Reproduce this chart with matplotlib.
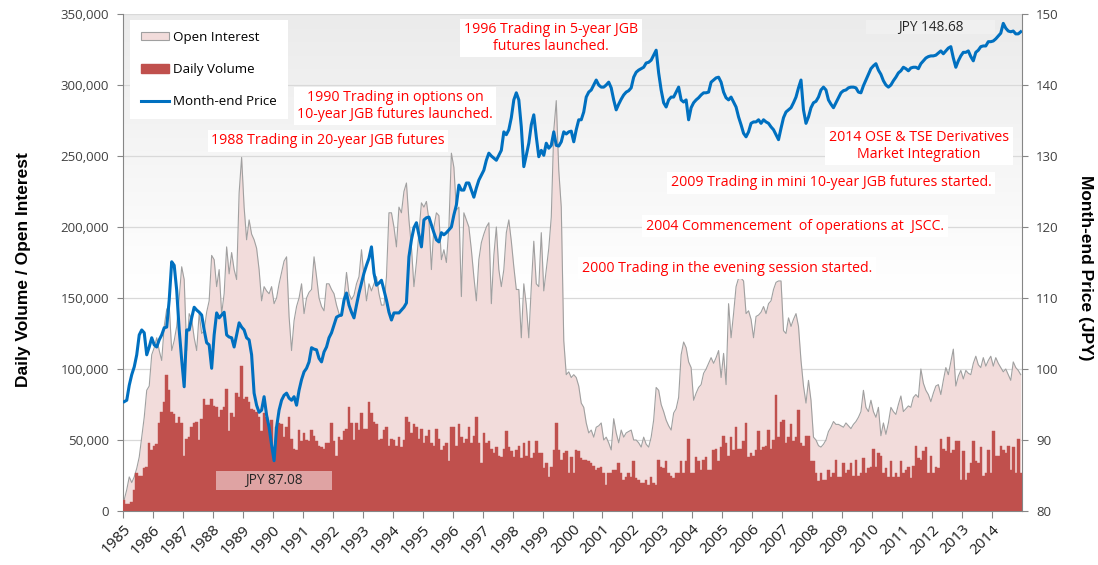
import numpy as np
import matplotlib
matplotlib.use("Agg")
import matplotlib.pyplot as plt
from matplotlib.patches import Patch, Rectangle
from matplotlib.lines import Line2D
from matplotlib.ticker import FuncFormatter, MultipleLocator
from matplotlib.colors import LinearSegmentedColormap

plt.rcParams['font.family'] = ['Open Sans', 'DejaVu Sans']

# --- data (monthly, Jan 1985 .. Dec 2014) ---
years = list(range(1985, 2015))

# daily volume, thousands of contracts
volume_k = [
    8, 5, 5, 6, 15, 27, 25, 25, 30, 31, 48, 43,         # 1985
    46, 47, 62, 70, 77, 96, 85, 70, 68, 62, 66, 62,     # 1986
    39, 51, 52, 59, 62, 63, 50, 65, 79, 75, 75, 79,     # 1987
    74, 73, 66, 71, 73, 86, 56, 69, 66, 83, 80, 102,    # 1988
    79, 80, 77, 72, 71, 70, 66, 56, 69, 66, 61, 64,     # 1989
    44, 59, 62, 61, 52, 59, 66, 51, 44, 43, 57, 49,     # 1990
    55, 50, 49, 57, 53, 49, 46, 45, 44, 48, 48, 62,     # 1991
    49, 39, 52, 50, 56, 58, 73, 62, 50, 62, 57, 69,     # 1992
    58, 58, 77, 69, 63, 61, 50, 51, 57, 59, 46, 51,     # 1993
    50, 46, 52, 45, 50, 66, 63, 55, 61, 59, 51, 58,     # 1994
    48, 53, 57, 48, 46, 58, 51, 43, 46, 48, 35, 59,     # 1995
    59, 46, 61, 52, 48, 51, 59, 48, 53, 66, 48, 34,     # 1996
    55, 48, 49, 44, 41, 45, 39, 38, 44, 56, 45, 42,     # 1997
    38, 43, 46, 37, 48, 39, 49, 37, 41, 49, 41, 41,     # 1998
    30, 34, 24, 31, 43, 62, 43, 36, 41, 42, 27, 38,     # 1999
    27, 43, 42, 37, 36, 36, 35, 34, 32, 29, 30, 31,     # 2000
    27, 18, 27, 27, 29, 29, 34, 27, 22, 24, 27, 24,     # 2001
    35, 23, 22, 20, 20, 22, 18, 24, 20, 18, 36, 31,     # 2002
    30, 35, 27, 25, 23, 27, 27, 35, 27, 35, 51, 27,     # 2003
    27, 38, 35, 29, 36, 38, 29, 29, 43, 44, 35, 45,     # 2004
    53, 48, 39, 52, 43, 59, 44, 44, 49, 62, 38, 41,     # 2005
    39, 43, 56, 43, 45, 46, 57, 44, 50, 82, 52, 63,     # 2006
    64, 48, 52, 61, 49, 52, 71, 48, 46, 53, 53, 35,     # 2007
    35, 27, 21, 27, 22, 22, 29, 24, 27, 36, 24, 24,     # 2008
    34, 27, 29, 34, 25, 36, 25, 27, 37, 27, 30, 31,     # 2009
    44, 31, 41, 39, 27, 30, 24, 35, 24, 27, 24, 35,     # 2010
    27, 29, 31, 23, 32, 46, 37, 36, 42, 45, 27, 39,     # 2011
    27, 31, 30, 51, 44, 42, 52, 41, 43, 49, 49, 22,     # 2012
    42, 22, 27, 34, 49, 35, 34, 45, 25, 27, 43, 27,     # 2013
    56, 39, 39, 46, 43, 41, 46, 29, 45, 27, 51, 27,     # 2014
]

# open interest, thousands of contracts
open_interest_k = [
    8, 15, 24, 20, 24, 30, 38, 52, 66, 85, 88, 110,             # 1985
    115, 122, 113, 106, 130, 142, 145, 113, 120, 130, 150, 172,  # 1986
    163, 113, 139, 135, 122, 113, 139, 125, 127, 140, 148, 180,  # 1987
    177, 158, 170, 139, 153, 186, 167, 182, 170, 163, 224, 249,  # 1988
    214, 191, 205, 195, 191, 185, 170, 148, 158, 155, 153, 158,  # 1989
    146, 150, 160, 168, 176, 179, 137, 113, 134, 144, 150, 160,  # 1990
    139, 150, 154, 156, 179, 165, 150, 144, 141, 160, 160, 156,  # 1991
    153, 145, 139, 137, 150, 168, 153, 149, 152, 160, 165, 184,  # 1992
    165, 148, 160, 155, 160, 165, 153, 145, 145, 165, 210, 210,  # 1993
    200, 186, 214, 210, 225, 231, 205, 186, 158, 175, 196, 217,  # 1994
    214, 218, 205, 170, 200, 210, 208, 177, 184, 175, 200, 252,  # 1995
    242, 212, 214, 151, 210, 205, 200, 184, 165, 148, 177, 189,  # 1996
    195, 200, 203, 146, 180, 200, 170, 158, 170, 196, 205, 190,  # 1997
    172, 156, 156, 122, 160, 145, 122, 158, 190, 160, 158, 196,  # 1998
    155, 170, 185, 207, 268, 289, 240, 214, 120, 96, 98, 94,     # 1999
    96, 94, 88, 76, 73, 62, 55, 57, 52, 59, 60, 62,              # 2000
    50, 52, 48, 43, 65, 55, 48, 57, 52, 55, 56, 57,              # 2001
    50, 50, 48, 45, 52, 47, 45, 52, 64, 87, 85, 75,              # 2002
    70, 64, 60, 57, 69, 72, 80, 110, 119, 115, 105, 101,         # 2003
    78, 83, 87, 89, 97, 100, 104, 108, 104, 108, 113, 94,        # 2004
    111, 89, 146, 122, 139, 158, 164, 164, 162, 139, 141, 135,   # 2005
    122, 137, 138, 140, 144, 139, 146, 148, 156, 161, 162, 162,  # 2006
    127, 125, 136, 130, 135, 139, 130, 106, 88, 76, 92, 78,      # 2007
    52, 50, 46, 45, 47, 50, 56, 59, 63, 61, 61, 60,              # 2008
    59, 62, 60, 58, 61, 63, 66, 70, 85, 73, 70, 78,              # 2009
    70, 66, 73, 53, 62, 54, 62, 73, 70, 68, 75, 81,              # 2010
    70, 72, 74, 73, 80, 82, 80, 100, 90, 85, 82, 77,             # 2011
    83, 88, 89, 82, 92, 101, 96, 105, 114, 88, 95, 99,           # 2012
    93, 99, 97, 96, 104, 109, 103, 101, 108, 102, 106, 109,      # 2013
    102, 108, 104, 101, 98, 100, 96, 92, 105, 101, 99, 96,       # 2014
]

# month-end price, JPY
price_jpy = [
    95.4, 95.6, 97.7, 99.2, 100.3, 102.0, 104.8, 105.5, 105.1, 102.0, 103.1, 104.4,  # 1985
    103.4, 103.1, 104.1, 104.8, 105.8, 105.9, 109.7, 115.1, 114.6, 111.1, 105.5, 101.3,  # 1986
    97.5, 105.5, 105.5, 107.2, 108.7, 108.3, 108.0, 107.6, 105.5, 103.7, 103.4, 100.1,  # 1987
    104.8, 107.9, 107.2, 107.6, 108.0, 104.8, 104.5, 104.4, 103.1, 104.8, 106.5, 105.9,  # 1988
    105.5, 104.4, 104.1, 102.0, 96.6, 94.9, 93.9, 94.2, 96.1, 93.5, 91.8, 89.3,  # 1989
    87.08, 91.8, 94.2, 95.6, 96.3, 96.6, 95.9, 95.6, 96.1, 94.9, 97.0, 98.5,  # 1990
    99.6, 100.1, 101.0, 103.0, 102.8, 102.7, 101.5, 101.0, 102.4, 103.1, 104.4, 105.1,  # 1991
    106.2, 107.3, 107.5, 107.6, 109.7, 110.7, 109.0, 108.0, 107.2, 109.0, 110.7, 112.1,  # 1992
    113.5, 114.6, 115.6, 117.2, 113.5, 111.8, 112.1, 112.5, 111.1, 109.7, 108.0, 106.9,  # 1993
    107.9, 107.9, 107.9, 108.3, 108.7, 109.3, 115.8, 118.2, 119.9, 120.6, 118.9, 117.2,  # 1994
    121.0, 121.3, 121.4, 120.3, 119.2, 118.2, 117.9, 119.2, 118.9, 119.2, 119.6, 120.0,  # 1995
    121.7, 123.1, 125.9, 125.2, 125.2, 126.2, 126.2, 125.2, 124.2, 125.5, 126.6, 127.3,  # 1996
    128.0, 129.4, 130.4, 130.0, 129.7, 129.4, 130.1, 130.8, 133.4, 133.0, 133.7, 135.4,  # 1997
    137.9, 138.9, 137.9, 134.1, 128.5, 130.1, 131.8, 134.4, 135.8, 132.7, 129.9, 130.8,  # 1998
    130.1, 131.8, 131.1, 131.5, 133.4, 131.5, 131.4, 132.0, 133.4, 133.1, 133.4, 133.5,  # 1999
    132.0, 133.7, 135.1, 135.1, 136.2, 138.3, 139.0, 139.3, 140.0, 140.7, 140.0, 139.7,  # 2000
    139.7, 140.0, 140.4, 139.6, 137.9, 136.5, 137.3, 138.0, 138.6, 139.0, 139.2, 139.6,  # 2001
    141.1, 141.8, 142.1, 142.3, 142.5, 143.1, 143.2, 143.5, 144.2, 144.9, 141.7, 139.3,  # 2002
    137.5, 136.9, 137.9, 138.3, 138.3, 139.0, 139.7, 137.9, 137.6, 137.9, 135.1, 136.8,  # 2003
    137.5, 137.9, 138.2, 138.6, 138.9, 138.9, 139.0, 140.4, 140.7, 141.0, 141.1, 140.4,  # 2004
    139.0, 138.2, 137.9, 138.3, 137.6, 136.9, 135.5, 134.4, 133.2, 132.7, 133.4, 134.6,  # 2005
    134.8, 134.8, 135.1, 134.6, 135.1, 134.8, 134.6, 134.1, 133.7, 133.0, 132.3, 133.9,  # 2006
    135.4, 136.2, 136.5, 136.8, 137.5, 138.3, 139.6, 140.7, 136.5, 134.6, 135.5, 136.8,  # 2007
    137.5, 137.7, 138.3, 139.3, 139.7, 139.3, 137.9, 137.3, 136.8, 137.5, 138.2, 138.9,  # 2008
    139.2, 139.3, 139.6, 139.7, 139.7, 139.6, 139.0, 138.9, 139.9, 140.7, 141.5, 142.3,  # 2009
    142.7, 143.0, 142.1, 141.5, 140.6, 140.0, 139.7, 140.0, 140.6, 141.1, 141.7, 142.0,  # 2010
    142.5, 142.3, 142.0, 142.4, 142.5, 142.5, 142.3, 143.0, 143.4, 143.8, 144.0, 144.1,  # 2011
    144.1, 144.2, 144.5, 144.8, 144.4, 144.8, 145.2, 145.4, 143.8, 142.5, 143.4, 144.1,  # 2012
    144.6, 144.6, 144.8, 144.0, 143.4, 144.6, 144.9, 145.4, 145.5, 145.5, 146.1, 146.1,  # 2013
    146.2, 146.5, 146.9, 147.3, 148.68, 148.0, 147.6, 147.5, 147.6, 147.2, 147.2, 147.5,  # 2014
]

events = [
    ("1996 Trading in 5-year JGB\nfutures launched.", 551, 38),
    ("1990 Trading in options on\n10-year JGB futures launched.", 395, 106),
    ("1988 Trading in 20-year JGB futures", 328, 141),
    ("2014 OSE & TSE Derivatives\nMarket Integration", 919, 146),
    ("2009 Trading in mini 10-year JGB futures started.", 831, 183),
    ("2004 Commencement  of operations at  JSCC.", 795, 226),
    ("2000 Trading in the evening session started.", 727, 268),
]

# --- layout in pixels of the 1098x565 canvas ---
W, H = 1098, 565
L, R, T, B = 123, 1022, 14, 511


def axfrac(px, py):
    return (px - L) / (R - L), (B - py) / (B - T)


fig = plt.figure(figsize=(W / 100, H / 100), dpi=100)
fig.patch.set_facecolor('white')
ax = fig.add_axes([L / W, 1 - B / H, (R - L) / W, (B - T) / H])

# soft grey gradient at the top of the plot area
grad = np.linspace(0, 1, 256).reshape(-1, 1)
cmap = LinearSegmentedColormap.from_list('g', [(0, '#ffffff'), (0.45, '#ffffff'), (1, '#ebebeb')])
ax.imshow(grad, extent=[0, 1, 0, 1], transform=ax.transAxes, aspect='auto',
          origin='lower', cmap=cmap, zorder=0, interpolation='bicubic')

x = np.arange(len(price_jpy)) + 0.5
oi = np.array(open_interest_k) * 1000
vol = np.array(volume_k) * 1000

ax.fill_between(x, oi, color='#f2dcdb', lw=0, zorder=2)
ax.plot(x, oi, color='#a0a0a0', lw=0.8, zorder=3)
ax.bar(x, vol, width=1.0, color='#c0504d', edgecolor='#c0504d', lw=0.3, zorder=4)

ax.set_xlim(0, len(price_jpy))
ax.set_ylim(0, 350000)
ax.yaxis.set_major_locator(MultipleLocator(50000))
ax.yaxis.set_major_formatter(FuncFormatter(lambda v, p: f"{int(v):,}"))
ax.yaxis.grid(True, color='#d9d9d9', lw=0.9, zorder=1)
ax.set_axisbelow(True)

ax.set_xticks([(yr - 1985) * 12 for yr in years])
ax.set_xticklabels([str(yr) for yr in years], rotation=45, ha='right',
                   va='top', rotation_mode='anchor', fontsize=11, color='#1a1a1a')
ax.tick_params(axis='x', length=5, color='#868686', pad=3)
ax.tick_params(axis='y', length=4, color='#868686', labelsize=9.5, labelcolor='#404040', pad=6)

for s in ['top', 'right']:
    ax.spines[s].set_visible(False)
for s in ['left', 'bottom']:
    ax.spines[s].set_color('#868686')

label_font = ['Liberation Sans Narrow', 'Liberation Sans', 'DejaVu Sans']
ax.set_ylabel('Daily Volume / Open Interest', fontsize=12.5, fontweight='bold', family=label_font)
ax.yaxis.set_label_coords(-0.102, 0.485)

ax2 = ax.twinx()
ax2.plot(x, price_jpy, color='#0070c0', lw=2.2, zorder=5, solid_joinstyle='round')
ax2.set_ylim(80, 150)
ax2.yaxis.set_major_locator(MultipleLocator(10))
ax2.tick_params(axis='y', length=4, color='#868686', labelsize=9.5, labelcolor='#404040', pad=6)
for s in ['top', 'left', 'bottom']:
    ax2.spines[s].set_visible(False)
ax2.spines['right'].set_color('#868686')
ax2.set_ylabel('Month-end Price (JPY)', fontsize=12.5, fontweight='bold', rotation=-90,
               va='bottom', family=label_font)
ax2.yaxis.set_label_coords(1.062, 0.49)

# event notes with white boxes
for label, px, py in events:
    tx, ty = axfrac(px, py)
    ax2.text(tx, ty, label, transform=ax2.transAxes, ha='center', va='center',
             color='#ff0000', fontsize=10.2, linespacing=1.1, zorder=7,
             bbox=dict(facecolor='white', edgecolor='none', pad=2.5), clip_on=False)

# price call-outs
x0, y0 = axfrac(866, 34)
x1, y1 = axfrac(995, 20)
ax2.add_patch(Rectangle((x0, y0), x1 - x0, y1 - y0, transform=ax2.transAxes,
                        facecolor='#f0f0f0', edgecolor='none', zorder=6))
ax2.text((x0 + x1) / 2, (y0 + y1) / 2, f"JPY {max(price_jpy):.2f}", transform=ax2.transAxes,
         ha='center', va='center', fontsize=9.8, color='#262626', zorder=7)
x0, y0 = axfrac(216, 490)
x1, y1 = axfrac(332, 471)
ax2.add_patch(Rectangle((x0, y0), x1 - x0, y1 - y0, transform=ax2.transAxes,
                        facecolor='#dfa3a3', edgecolor='none', zorder=6))
ax2.text((x0 + x1) / 2, (y0 + y1) / 2, f"JPY {min(price_jpy):.2f}", transform=ax2.transAxes,
         ha='center', va='center', fontsize=9.8, color='#262626', zorder=7)

handles = [
    Patch(facecolor='#f2dcdb', edgecolor='#a0a0a0', lw=0.8, label='Open Interest'),
    Patch(facecolor='#c0504d', edgecolor='#c0504d', label='Daily Volume'),
    Line2D([], [], color='#0070c0', lw=2.2, label='Month-end Price'),
]
leg = ax2.legend(handles=handles, loc='upper left', bbox_to_anchor=axfrac(130, 20),
                 frameon=True, fancybox=False, framealpha=1, facecolor='white',
                 edgecolor='none', fontsize=9.6, labelspacing=1.45, handlelength=2.1,
                 handleheight=0.6, handletextpad=0.35, borderpad=0.8, borderaxespad=0)
leg.set_zorder(8)

fig.savefig('out.png', dpi=100)
